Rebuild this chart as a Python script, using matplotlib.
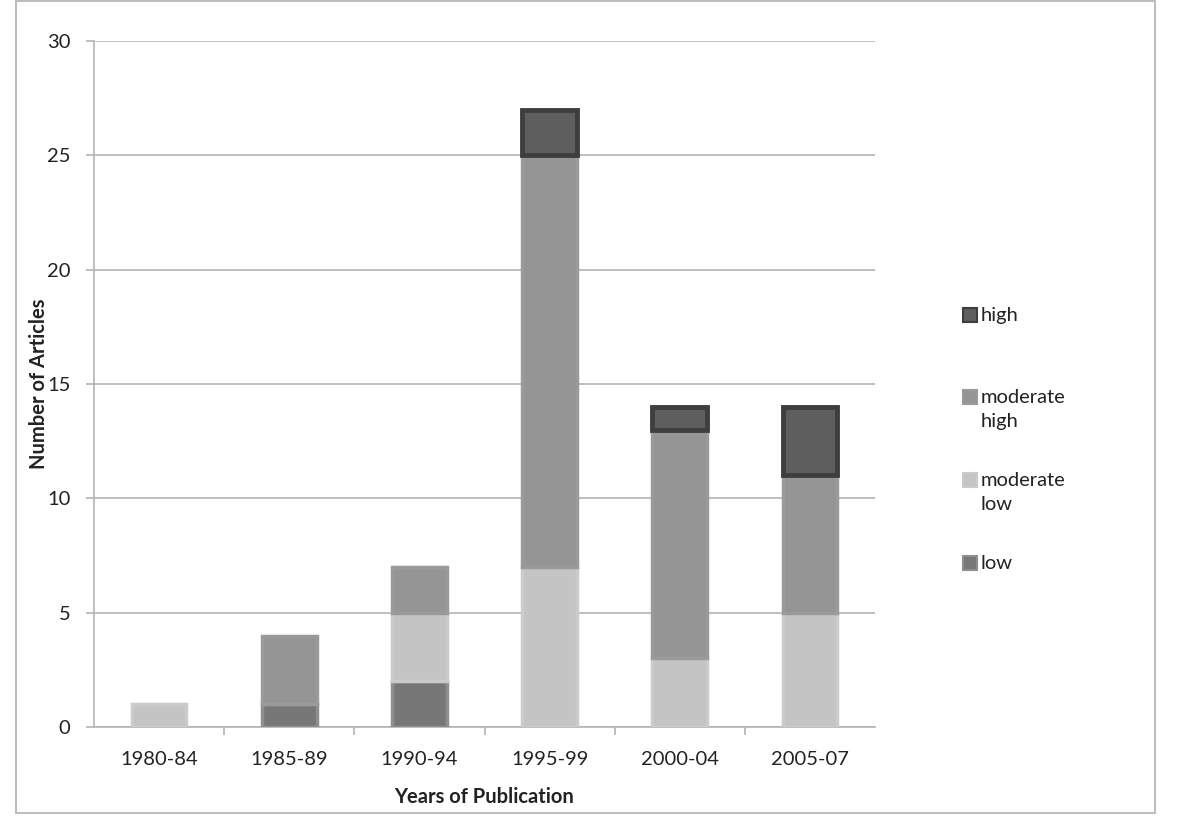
import matplotlib
matplotlib.use("Agg")
import matplotlib.pyplot as plt
from matplotlib.patches import Rectangle
import numpy as np

plt.rcParams['font.family'] = ['Lato', 'DejaVu Sans']

periods = ['1980-84', '1985-89', '1990-94', '1995-99', '2000-04', '2005-07']
low = [0, 1, 2, 0, 0, 0]
moderate_low = [1, 0, 3, 7, 3, 5]
moderate_high = [0, 3, 2, 18, 10, 6]
high = [0, 0, 0, 2, 1, 3]

series = [
    ('low', low, '#777777', '#8f8f8f', 2.5),
    ('moderate\nlow', moderate_low, '#c4c4c4', '#cbcbcb', 2.5),
    ('moderate\nhigh', moderate_high, '#959595', '#9a9a9a', 2.5),
    ('high', high, '#5e5e5e', '#3e3e3e', 3.5),
]
fs = 14.5

fig = plt.figure(figsize=(12, 8.18), dpi=100)
ax = fig.add_axes([94/1200, 91/818, (875-94)/1200, (727-41)/818])

x = np.arange(len(periods))
bottom = np.zeros(len(periods))
for name, vals, fc, ec, lw in series:
    vals = np.array(vals, dtype=float)
    mask = vals > 0
    ax.bar(x[mask], vals[mask], bottom=bottom[mask], width=0.42,
           color=fc, edgecolor=ec, linewidth=lw, zorder=3)
    bottom += vals

ax.set_xlim(-0.5, len(periods) - 0.5)
ax.set_ylim(0, 30)
ax.set_yticks(range(0, 31, 5))
ax.yaxis.grid(True, color='#b4b4b4', linewidth=1.2, zorder=0)
ax.set_xticks(x)
ax.set_xticklabels(periods, fontsize=fs, color='#222222')
ax.set_xticks(np.arange(0.5, len(periods) - 0.5, 1), minor=True)
ax.tick_params(axis='x', which='major', length=0, pad=17)
ax.tick_params(axis='x', which='minor', length=6, color='#b4b4b4', width=1.2)
ax.tick_params(axis='y', length=6, color='#b4b4b4', width=1.2, pad=11,
               labelsize=fs, labelcolor='#222222')

for s in ['top', 'right']:
    ax.spines[s].set_visible(False)
for s in ['left', 'bottom']:
    ax.spines[s].set_color('#b4b4b4')
    ax.spines[s].set_linewidth(1.2)

ax.set_xlabel('Years of Publication', fontsize=fs, fontweight='bold',
              color='#222222')
ax.set_ylabel('Number of Articles', fontsize=fs, fontweight='bold',
              color='#222222')
ax.xaxis.set_label_coords(0.5, -0.088)
ax.yaxis.set_label_coords(-0.058, 0.5)

# legend drawn by hand, marker at the first line of each label
legend_y = [315, 397, 480, 563]
for (name, vals, fc, ec, lw), yy in zip(reversed(series), legend_y):
    fig.patches.append(Rectangle((963/1200, (818 - yy - 7)/818), 14/1200, 14/818,
                                 transform=fig.transFigure, facecolor=fc,
                                 edgecolor=ec, linewidth=1.5))
    fig.text(981/1200, (818 - yy + 8)/818, name, fontsize=fs, color='#222222',
             va='top', ha='left', linespacing=1.5)

# outer frame
fig.patches.append(Rectangle((16/1200, 5/818), (1155-16)/1200, (817-5)/818,
                             transform=fig.transFigure, fill=False,
                             edgecolor='#bdbdbd', linewidth=1.5))

fig.savefig('out.png', dpi=100)
